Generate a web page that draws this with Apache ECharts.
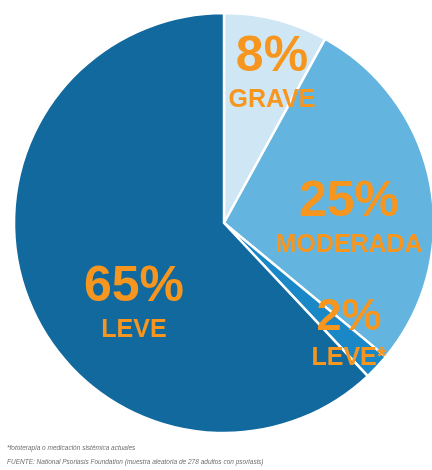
<!DOCTYPE html>
<html>
<head>
<meta charset="utf-8">
<style>
html,body{margin:0;padding:0;background:#fff;}
#chart{width:432px;height:470px;}
</style>
<script src="https://cdn.jsdelivr.net/npm/echarts@6/dist/echarts.min.js"></script>
</head>
<body>
<div id="chart"></div>
<script>
// Data (slice sizes as drawn; label text as printed)
const categories = ['GRAVE', 'MODERADA', 'LEVE*', 'LEVE'];
const values = [8, 28, 2, 62];
const percentLabels = ['8%', '25%', '2%', '65%'];
const footnote = '*fototerapia o medicación sistémica actuales';
const source = 'FUENTE: National Psoriasis Foundation (muestra aleatoria de 278 adultos con psoriasis)';

// Styling / layout (kept separate from data)
const colors = ['#cfe6f4', '#63b4df', '#1a87c6', '#12699e'];
const labelPos = [[272, 75], [349, 220], [349, 335], [134, 305]];
const bigStyle = ['big', 'big', 'mid', 'big'];

const chart = echarts.init(document.getElementById('chart'), null, {renderer: 'canvas'});

const pieData = categories.map((c, i) => ({
  name: c,
  value: values[i],
  itemStyle: {color: colors[i]},
  label: {
    formatter: '{' + bigStyle[i] + '|' + percentLabels[i] + '}\n{small|' + c + '}'
  }
}));

chart.setOption({
  animation: false,
  backgroundColor: '#ffffff',
  series: [{
    type: 'pie',
    center: [224, 223],
    radius: [0, 210],
    startAngle: 90,
    clockwise: true,
    avoidLabelOverlap: false,
    itemStyle: {borderColor: '#ffffff', borderWidth: 2.5},
    label: {
      show: true,
      position: 'inside',
      align: 'center',
      color: '#f7961e',
      fontFamily: '"Liberation Sans", Arial, sans-serif',
      fontWeight: 'bold',
      rich: {
        big: {fontSize: 50, lineHeight: 50, fontWeight: 'bold', color: '#f7961e', fontFamily: '"Liberation Sans", Arial, sans-serif', align: 'center'},
        mid: {fontSize: 45, lineHeight: 46, fontWeight: 'bold', color: '#f7961e', fontFamily: '"Liberation Sans", Arial, sans-serif', align: 'center'},
        small: {fontSize: 25, lineHeight: 35, fontWeight: 'bold', color: '#f7961e', fontFamily: '"Liberation Sans", Arial, sans-serif', align: 'center'}
      }
    },
    labelLine: {show: false},
    labelLayout: function (params) {
      const p = labelPos[params.dataIndex];
      return {x: p[0], y: p[1], align: 'center', verticalAlign: 'middle', hideOverlap: false};
    },
    emphasis: {disabled: true},
    data: pieData
  }],
  graphic: [
    {type: 'text', left: 7, top: 445, style: {text: footnote, font: 'italic 6.5px "Liberation Sans", Arial, sans-serif', fill: '#6f6f6f'}},
    {type: 'text', left: 7, top: 459, style: {text: source, font: 'italic 6.5px "Liberation Sans", Arial, sans-serif', fill: '#6f6f6f'}}
  ]
});
</script>
</body>
</html>
